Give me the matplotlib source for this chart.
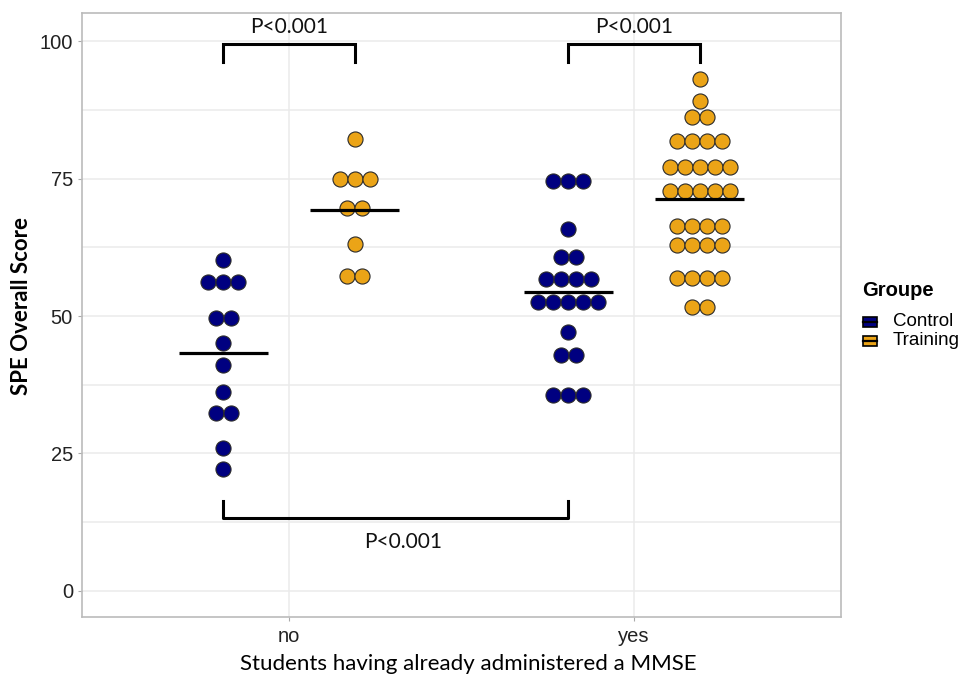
import numpy as np
import matplotlib.pyplot as plt
from matplotlib.patches import Rectangle

# ----- DATA (score levels and number of students at each level) -----
categories = ['no', 'yes']
groups = ['Control', 'Training']
colors = {'Control': '#000080', 'Training': '#EBA417'}

no_control_scores = [60.1, 56.1, 49.6, 45.1, 41.1, 36.1, 32.3, 26.0, 22.1]
no_control_counts = [1, 3, 2, 1, 1, 1, 2, 1, 1]
no_training_scores = [82.1, 74.9, 69.6, 63.1, 57.3]
no_training_counts = [1, 3, 2, 1, 2]
yes_control_scores = [74.5, 65.9, 60.8, 56.7, 52.6, 47.1, 42.9, 35.6]
yes_control_counts = [3, 1, 2, 4, 5, 1, 2, 3]
yes_training_scores = [93.1, 89.1, 86.1, 81.8, 77.1, 72.7, 66.4, 62.9, 56.9, 51.7]
yes_training_counts = [1, 1, 2, 4, 5, 5, 4, 4, 4, 2]

yticks = [0, 25, 50, 75, 100]
p_label = 'P<0.001'

series = {
    ('no', 'Control'): (no_control_scores, no_control_counts),
    ('no', 'Training'): (no_training_scores, no_training_counts),
    ('yes', 'Control'): (yes_control_scores, yes_control_counts),
    ('yes', 'Training'): (yes_training_scores, yes_training_counts),
}

# ----- PLOT -----
W, H = 964, 674
fig = plt.figure(figsize=(W / 100, H / 100), dpi=100)
ax = fig.add_axes([0.085, 0.0846, 0.7874, 0.8961])

dodge = 0.19
dot_step = 0.0435
grid_c = '#EBEBEB'

centers = {}
for (cat, grp), (scores, counts) in series.items():
    xc = categories.index(cat) + 1 + (-dodge if grp == 'Control' else dodge)
    centers[(cat, grp)] = xc
    xs, ys = [], []
    for s, n in zip(scores, counts):
        for i in range(n):
            xs.append(xc + (i - (n - 1) / 2) * dot_step)
            ys.append(s)
    ax.scatter(xs, ys, s=118, color=colors[grp], edgecolor='#2a2a2a', linewidth=0.8, zorder=3)
    mean = np.mean(np.repeat(scores, counts))
    ax.hlines(mean, xc - 0.13, xc + 0.13, color='black', linewidth=2.3, zorder=4)

# significance brackets
def bracket(x1, x2, y, tip, text_y):
    ax.plot([x1, x1, x2, x2], [y + tip, y, y, y + tip], color='black', linewidth=2.2,
            solid_joinstyle='miter', zorder=5)
    ax.text((x1 + x2) / 2, text_y, p_label, ha='center', va='center', fontsize=15,
            family='Lato', color='#111111')

bracket(centers[('no', 'Control')], centers[('no', 'Training')], 99.5, -3.3, 102.6)
bracket(centers[('yes', 'Control')], centers[('yes', 'Training')], 99.5, -3.3, 102.6)
ax.plot([centers[('no', 'Control')], centers[('no', 'Control')], centers[('yes', 'Control')], centers[('yes', 'Control')]],
        [16.4, 13.3, 13.3, 16.4], color='black', linewidth=2.2, zorder=5)
ax.text(1.33, 8.9, p_label, ha='center', va='center', fontsize=15, family='Lato', color='#111111')

ax.set_xlim(0.4, 2.6)
ax.set_ylim(-4.73, 105.1)
ax.set_xticks([1, 2])
ax.set_xticklabels(categories)
ax.set_yticks(yticks)
ax.set_yticks([12.5, 37.5, 62.5, 87.5], minor=True)
ax.grid(True, which='both', color=grid_c, linewidth=1.1, zorder=0)
ax.set_axisbelow(True)
ax.tick_params(axis='both', which='major', length=3, color='#AAAAAA', labelsize=14.5,
               labelcolor='#222222', labelfontfamily='Liberation Sans')
ax.tick_params(axis='x', pad=4)
ax.tick_params(axis='both', which='minor', length=0)
for sp in ax.spines.values():
    sp.set_color('#BBBBBB')
    sp.set_linewidth(1.2)

fig.text(468 / W, 1 - 664 / H, 'Students having already administered a MMSE', fontsize=16,
         family='Lato', ha='center', va='center')
fig.text(22 / W, 1 - 306 / H, 'SPE Overall Score', fontsize=16, family='Lato', fontweight='bold',
         rotation=90, ha='center', va='center')

# legend drawn by hand to match the key layout
fig.text(862 / W, 1 - 291 / H, 'Groupe', fontsize=14.5, family='Liberation Sans', fontweight='bold',
         ha='left', va='center')
for k, g in enumerate(groups):
    yc = 322 + 18.5 * k
    fig.patches.append(Rectangle((863 / W, 1 - (yc + 5) / H), 14 / W, 10 / H, transform=fig.transFigure,
                                 facecolor=colors[g], edgecolor='black', linewidth=1.2))
    fig.lines.append(plt.Line2D([863 / W, 877 / W], [1 - yc / H, 1 - yc / H], transform=fig.transFigure,
                                color='black', linewidth=1.6))
    fig.text(893 / W, 1 - yc / H, g, fontsize=13.5, family='Liberation Sans', ha='left', va='center')

fig.savefig('out.png', dpi=100)
